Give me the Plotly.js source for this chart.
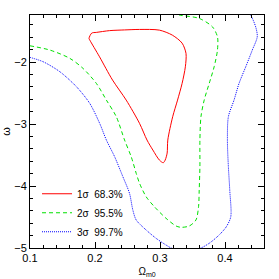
<!DOCTYPE html>
<html>
<head>
<meta charset="utf-8">
<script src="https://cdn.plot.ly/plotly-3.0.1.min.js"></script>
<style>html,body{margin:0;padding:0;background:#fff;}#chart{width:279px;height:279px;}</style>
</head>
<body>
<div id="chart"></div>
<script>
// 1 sigma (68.3%) contour, closed
const sig1X = [0.1908,0.195,0.202,0.2225,0.2455,0.2685,0.299,0.319,0.334,0.340,0.339,0.334,0.327,0.3195,0.312,0.311,0.308,0.305,0.299,0.289,0.280,0.2685,0.248,0.227,0.207,0.192,0.1908];
const sig1Y = [-1.618,-1.532,-1.521,-1.492,-1.481,-1.473,-1.484,-1.565,-1.694,-1.86,-2.076,-2.344,-2.613,-2.882,-3.258,-3.468,-3.58,-3.624,-3.58,-3.419,-3.258,-2.989,-2.613,-2.29,-1.915,-1.645,-1.618];
// 2 sigma (95.5%) contour
const sig2X = [0.1,0.1306,0.1613,0.1816,0.2021,0.2175,0.2328,0.2455,0.2557,0.2634,0.2685,0.2787,0.2914,0.3093,0.3247,0.3323,0.345,0.3553,0.3593,0.3603,0.3614,0.3614,0.363,0.368,0.3757,0.3833,0.3884,0.3884,0.3807,0.3603,0.3297,0.32];
const sig2Y = [-1.737,-1.806,-1.94,-2.102,-2.344,-2.613,-2.882,-3.258,-3.527,-3.795,-3.956,-4.173,-4.334,-4.521,-4.645,-4.666,-4.645,-4.548,-4.334,-4.065,-3.689,-3.258,-2.882,-2.613,-2.344,-2.076,-1.806,-1.592,-1.431,-1.295,-1.242,-1.22];
// 3 sigma (99.7%) contour
const sig3X = [0.1,0.1204,0.146,0.1715,0.1919,0.2072,0.2175,0.2302,0.2429,0.2531,0.2582,0.2634,0.2787,0.294,0.3093,0.3194,0.3374,0.3603,0.3757,0.391,0.4021,0.4089,0.4073,0.4052,0.4037,0.4052,0.4139,0.4216,0.4319,0.442,0.4496,0.4472,0.4395,0.437];
const sig3Y = [-1.924,-1.995,-2.156,-2.398,-2.666,-2.989,-3.258,-3.527,-3.85,-4.118,-4.387,-4.548,-4.71,-4.844,-4.952,-5.01,-5.03,-5.01,-4.924,-4.79,-4.656,-4.495,-4.065,-3.689,-3.258,-2.882,-2.613,-2.344,-2.076,-1.806,-1.592,-1.431,-1.242,-1.22];
const legendNames = ['1\u03c3  68.3%','2\u03c3  95.5%','3\u03c3  99.7%'];
const xTickVals = [0.1,0.2,0.3,0.4];
const yTickVals = [-5,-4,-3,-2];

const fam = 'Liberation Sans, Arial, sans-serif';
const traces = [
  {x:sig1X, y:sig1Y, mode:'lines', name:legendNames[0], line:{color:'#ff0000', width:1, shape:'spline', smoothing:0.8}},
  {x:sig2X, y:sig2Y, mode:'lines', name:legendNames[1], line:{color:'#00e000', width:1, dash:'4px,3px', shape:'spline', smoothing:0.8}},
  {x:sig3X, y:sig3Y, mode:'lines', name:legendNames[2], line:{color:'#0000ff', width:1, dash:'1px,1px', shape:'spline', smoothing:0.8}}
];
const axisCommon = {
  showgrid:false, zeroline:false, showline:true, linecolor:'#000', linewidth:1,
  mirror:'allticks', ticks:'inside', ticklen:6, tickwidth:1, tickcolor:'#000',
  tickfont:{family:fam, size:11, color:'#000'}
};
const layout = {
  width:279, height:279,
  margin:{l:30, r:15, t:15, b:31},
  paper_bgcolor:'#fff', plot_bgcolor:'#fff',
  font:{family:fam, size:10, color:'#000'},
  showlegend:true,
  legend:{x:0.03, y:0.295, xanchor:'left', yanchor:'top', bgcolor:'rgba(0,0,0,0)', font:{family:fam, size:10, color:'#000'}, tracegroupgap:0},
  xaxis:Object.assign({}, axisCommon, {
    range:[0.1,0.46], tickvals:xTickVals, ticktext:xTickVals.map(v=>v.toFixed(1)),
    minor:{dtick:0.02, tick0:0.1, ticks:'inside', ticklen:3, tickcolor:'#000', showgrid:false},
    title:{text:'\u03a9<sub>m0</sub>', font:{family:fam, size:10, color:'#000'}, standoff:4}
  }),
  yaxis:Object.assign({}, axisCommon, {
    range:[-5,-1.24], tickvals:yTickVals,
    minor:{dtick:0.2, tick0:-5, ticks:'inside', ticklen:3, tickcolor:'#000', showgrid:false},
    title:{text:'\u03c9', font:{family:fam, size:11, color:'#000'}, standoff:2}
  })
};
Plotly.newPlot('chart', traces, layout, {staticPlot:true, displayModeBar:false});
</script>
</body>
</html>
